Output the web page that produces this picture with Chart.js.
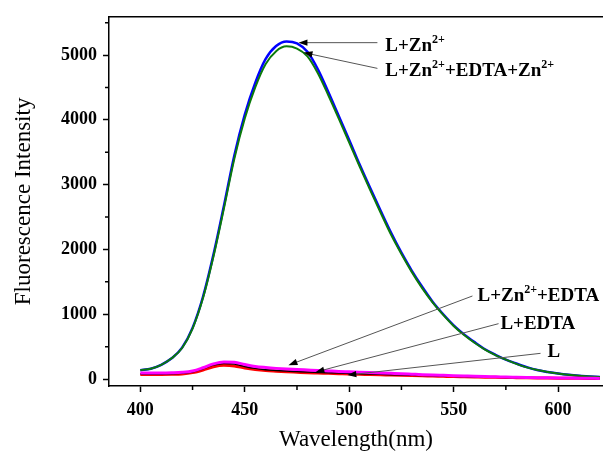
<!DOCTYPE html>
<html>
<head>
<meta charset="utf-8">
<script src="https://cdn.jsdelivr.net/npm/chart.js@4.4.0/dist/chart.umd.min.js"></script>
<style>
  html, body { margin: 0; padding: 0; background: #fff; }
  #wrap { width: 603px; height: 451px; }
</style>
</head>
<body>
<div id="wrap"><canvas id="grafico" width="603" height="451"></canvas></div>
<script>
// Longitudes de onda (nm), cada 5 nm
const wavelengths = [400,405,410,415,420,425,430,435,440,445,450,455,460,465,470,475,480,485,490,495,
  500,505,510,515,520,525,530,535,540,545,550,555,560,565,570,575,580,585,590,595,600,605,610,615,620];

// Intensidades
const zn = [135,160,220,320,485,790,1270,1920,2670,3450,4080,4570,4940,5140,5210,5180,5050,4780,4430,4060,
  3690,3310,2950,2600,2260,1950,1670,1420,1190,1000,830,690,570,460,375,300,240,185,140,110,85,65,50,40,30];
const znEdtaZn = [135,160,220,320,480,780,1250,1890,2630,3400,4020,4500,4860,5060,5135,5100,4980,4720,4380,4020,
  3650,3280,2920,2570,2230,1930,1650,1400,1180,990,820,680,560,455,370,300,235,180,140,110,85,65,50,40,30];
const znEdta = [95,95,95,98,105,125,175,235,265,258,225,195,178,165,155,148,140,132,125,118,
  112,106,100,94,88,82,75,68,62,57,52,47,42,38,35,31,28,25,22,20,18,16,14,12,10];
const edta = [80,80,80,82,88,110,160,215,240,232,195,165,145,133,123,116,109,103,97,92,
  88,83,78,73,68,63,58,54,50,46,42,38,35,32,29,26,24,21,19,17,15,13,12,10,9];
const ligand = [72,72,72,74,80,100,140,190,212,203,172,148,131,121,112,105,98,93,88,83,
  78,74,70,66,62,58,54,50,46,42,38,35,32,29,27,24,22,20,18,16,14,12,11,9,8];

// Ticks
const xTicks = [400, 450, 500, 550, 600];
const xMinor = [425, 475, 525, 575];
const yTicks = [0, 1000, 2000, 3000, 4000, 5000];
const yMinor = [500, 1500, 2500, 3500, 4500, 5500];

// Etiquetas con flecha: texto (partes, 1 = superíndice), posición del texto y punta/cola de la flecha (unidades de datos)
const labelParts = [
  [['L+Zn',0],['2+',1]],
  [['L+Zn',0],['2+',1],['+EDTA+Zn',0],['2+',1]],
  [['L+Zn',0],['2+',1],['+EDTA',0]],
  [['L+EDTA',0]],
  [['L',0]]
];
const labelAt = [[517.3, 5069], [517.3, 4672], [561.4, 1206], [572.4, 779], [594.9, 336]];
const arrowTail = [[513.5, 5191], [513.5, 4794], [559, 1282], [571.5, 855], [591.6, 397]];
const arrowHead = [[475.7, 5191], [478.1, 5038], [470.9, 214], [483.8, 107], [499.1, 61]];

const toPts = ys => ys.map((y, i) => ({ x: wavelengths[i], y }));

const serif = '"Liberation Serif", "Times New Roman", serif';

// Ticks menores, borde superior y anotaciones
const extras = {
  id: 'extras',
  afterDraw(chart) {
    const { ctx, chartArea, scales } = chart;
    const sx = scales.x, sy = scales.y;
    ctx.save();
    ctx.strokeStyle = '#000';
    ctx.lineWidth = 1.5;
    ctx.beginPath();
    ctx.moveTo(chartArea.left, chartArea.top);
    ctx.lineTo(chartArea.right, chartArea.top);
    xMinor.forEach(v => {
      const px = sx.getPixelForValue(v);
      ctx.moveTo(px, chartArea.bottom);
      ctx.lineTo(px, chartArea.bottom + 4);
    });
    yMinor.forEach(v => {
      const py = sy.getPixelForValue(v);
      ctx.moveTo(chartArea.left, py);
      ctx.lineTo(chartArea.left - 4, py);
    });
    ctx.stroke();

    // flechas
    arrowTail.forEach((t, i) => {
      const x1 = sx.getPixelForValue(t[0]), y1 = sy.getPixelForValue(t[1]);
      const x2 = sx.getPixelForValue(arrowHead[i][0]), y2 = sy.getPixelForValue(arrowHead[i][1]);
      const ang = Math.atan2(y2 - y1, x2 - x1);
      ctx.strokeStyle = '#555';
      ctx.lineWidth = 1;
      ctx.beginPath();
      ctx.moveTo(x1, y1);
      ctx.lineTo(x2 - 8 * Math.cos(ang), y2 - 8 * Math.sin(ang));
      ctx.stroke();
      ctx.fillStyle = '#000';
      ctx.beginPath();
      ctx.moveTo(x2, y2);
      ctx.lineTo(x2 - 9 * Math.cos(ang) + 3.2 * Math.sin(ang), y2 - 9 * Math.sin(ang) - 3.2 * Math.cos(ang));
      ctx.lineTo(x2 - 9 * Math.cos(ang) - 3.2 * Math.sin(ang), y2 - 9 * Math.sin(ang) + 3.2 * Math.cos(ang));
      ctx.closePath();
      ctx.fill();
    });

    // textos
    ctx.fillStyle = '#000';
    ctx.textBaseline = 'alphabetic';
    ctx.textAlign = 'left';
    labelParts.forEach((parts, i) => {
      let x = sx.getPixelForValue(labelAt[i][0]);
      const y = sy.getPixelForValue(labelAt[i][1]);
      parts.forEach(([txt, sup]) => {
        ctx.font = sup ? `bold 12px ${serif}` : `bold 19px ${serif}`;
        ctx.fillText(txt, x, sup ? y - 8 : y);
        x += ctx.measureText(txt).width;
      });
    });
    ctx.restore();
  }
};

new Chart(document.getElementById('grafico').getContext('2d'), {
  type: 'line',
  data: {
    datasets: [
      { label: 'L+Zn2++EDTA', data: toPts(znEdta), borderColor: '#ff00ff', borderWidth: 3 },
      { label: 'L+EDTA', data: toPts(edta), borderColor: '#000000', borderWidth: 1.5 },
      { label: 'L', data: toPts(ligand), borderColor: '#ff0000', borderWidth: 3 },
      { label: 'L+Zn2++EDTA+Zn2+', data: toPts(znEdtaZn), borderColor: '#0b7a0b', borderWidth: 2 },
      { label: 'L+Zn2+', data: toPts(zn), borderColor: '#0000ff', borderWidth: 2.5 }
    ]
  },
  options: {
    responsive: false,
    animation: false,
    devicePixelRatio: 1,
    layout: { padding: { top: 13, right: 0, left: 0, bottom: 0 } },
    elements: { point: { radius: 0 }, line: { cubicInterpolationMode: 'monotone' } },
    plugins: { legend: { display: false }, tooltip: { enabled: false } },
    scales: {
      x: {
        type: 'linear',
        min: 385,
        max: 621.5,
        afterBuildTicks: s => { s.ticks = xTicks.map(v => ({ value: v })); },
        afterFit: s => { s.height = 65; },
        ticks: { color: '#000', font: { family: serif, size: 18, weight: 'bold' }, padding: 8, maxRotation: 0,
          callback: v => String(v) },
        grid: { drawOnChartArea: false, tickLength: 6, color: '#000', tickWidth: 1.5 },
        border: { color: '#000', width: 1.5 },
        title: { display: true, text: 'Wavelength(nm)', color: '#000', font: { family: serif, size: 23, lineHeight: 1 }, padding: { top: 0, bottom: 0 } }
      },
      y: {
        min: -107,
        max: 5590,
        afterBuildTicks: s => { s.ticks = yTicks.map(v => ({ value: v })); },
        afterFit: s => { s.width = 109; },
        ticks: { color: '#000', font: { family: serif, size: 18, weight: 'bold' }, padding: 6,
          callback: v => String(v) },
        grid: { drawOnChartArea: false, tickLength: 6, color: '#000', tickWidth: 1.5 },
        border: { color: '#000', width: 1.5 },
        title: { display: true, text: 'Fluorescence Intensity', color: '#000', font: { family: serif, size: 23, lineHeight: 1 }, padding: { top: 12.5, bottom: 0 } }
      }
    }
  },
  plugins: [extras]
});
</script>
</body>
</html>
